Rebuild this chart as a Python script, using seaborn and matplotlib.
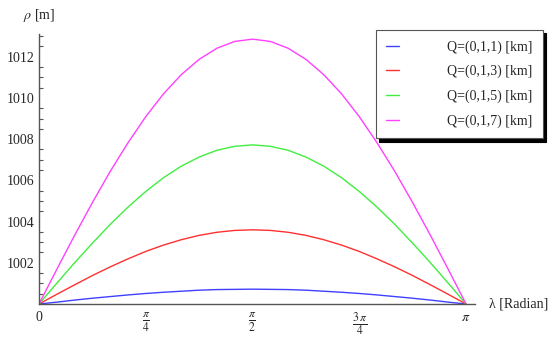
"""
Rho versus lambda for four Q positions
"""

import numpy as np
import matplotlib
matplotlib.use("Agg")
import matplotlib.pyplot as plt
import seaborn as sns
import pandas as pd

# lambda sampled every pi/24 from 0 to pi
lam_steps = list(range(25))

rho_q1 = [1000.00, 1000.09, 1000.19, 1000.28, 1000.36, 1000.44, 1000.51, 1000.57, 1000.62,
          1000.67, 1000.70, 1000.71, 1000.72, 1000.71, 1000.70, 1000.67, 1000.62, 1000.57,
          1000.51, 1000.44, 1000.36, 1000.28, 1000.19, 1000.09, 1000.00]
rho_q3 = [1000.00, 1000.47, 1000.93, 1001.38, 1001.80, 1002.19, 1002.55, 1002.86, 1003.12,
          1003.33, 1003.48, 1003.57, 1003.60, 1003.57, 1003.48, 1003.33, 1003.12, 1002.86,
          1002.55, 1002.19, 1001.80, 1001.38, 1000.93, 1000.47, 1000.00]
rho_q5 = [1000.00, 1001.01, 1002.00, 1002.95, 1003.86, 1004.70, 1005.46, 1006.13, 1006.69,
          1007.13, 1007.46, 1007.65, 1007.72, 1007.65, 1007.46, 1007.13, 1006.69, 1006.13,
          1005.46, 1004.70, 1003.86, 1002.95, 1002.00, 1001.01, 1000.00]
rho_q7 = [1000.00, 1001.68, 1003.33, 1004.92, 1006.43, 1007.82, 1009.09, 1010.20, 1011.13,
          1011.87, 1012.41, 1012.74, 1012.85, 1012.74, 1012.41, 1011.87, 1011.13, 1010.20,
          1009.09, 1007.82, 1006.43, 1004.92, 1003.33, 1001.68, 1000.00]

labels = ["Q=(0,1,1) [km]", "Q=(0,1,3) [km]", "Q=(0,1,5) [km]", "Q=(0,1,7) [km]"]
colors = ["#4040ff", "#ff3030", "#40ee40", "#ff40ff"]

x_ticks = [0, np.pi / 4, np.pi / 2, 3 * np.pi / 4, np.pi]
x_ticklabels = ["0", r"$\frac{\pi}{4}$", r"$\frac{\pi}{2}$", r"$\frac{3\,\pi}{4}$", r"$\pi$"]
y_ticks = [1002, 1004, 1006, 1008, 1010, 1012]

lam = [k * np.pi / 24 for k in lam_steps]
frames = []
for lab, vals in zip(labels, [rho_q1, rho_q3, rho_q5, rho_q7]):
    frames.append(pd.DataFrame({"lam": lam, "rho": vals, "Q": lab}))
data = pd.concat(frames, ignore_index=True)

sns.set_style("white")
plt.rcParams["font.family"] = ["Liberation Serif", "DejaVu Serif"]
plt.rcParams["mathtext.fontset"] = "stix"

fig = plt.figure(figsize=(5.5, 3.39), dpi=100)
ax = fig.add_axes([39 / 550, 1 - 304 / 339, 436 / 550, 270 / 339])

sns.lineplot(data=data, x="lam", y="rho", hue="Q", palette=colors,
             linewidth=1.0, ax=ax, legend=False)

ax.set_xlim(0, np.pi * 1.021)
ax.set_ylim(1000, 1013.1)
ax.set_xlabel("")
ax.set_ylabel("")

for s in ["top", "right"]:
    ax.spines[s].set_visible(False)
for s in ["left", "bottom"]:
    ax.spines[s].set_color("#555555")
    ax.spines[s].set_linewidth(1.0)

ax.set_xticks(x_ticks)
ax.set_xticklabels(x_ticklabels, fontsize=10)
for i, t in enumerate(ax.get_xticklabels()):
    if i in (1, 2, 3):
        t.set_fontsize(12)
ax.set_yticks(y_ticks)
ax.set_yticklabels([str(t) for t in y_ticks], fontsize=10)
ax.set_yticks(np.arange(1000.5, 1013.1, 0.5), minor=True)
ax.tick_params(axis="x", direction="in", length=5, width=1, color="#555555", pad=5)
ax.tick_params(axis="y", which="major", direction="in", length=5, width=1,
               color="#555555", pad=3)
ax.tick_params(axis="y", which="minor", direction="in", length=3, width=0.8,
               color="#555555", left=True)
ax.xaxis.get_major_ticks()[0].tick1line.set_visible(False)

handles = [plt.Line2D([], [], color=c, linewidth=1.0) for c in colors]
leg = fig.legend(handles, labels, loc="upper right",
                 bbox_to_anchor=(543 / 550, 1 - 30 / 339), bbox_transform=fig.transFigure,
                 borderaxespad=0, fontsize=10, frameon=True, fancybox=False,
                 handlelength=0.9, handletextpad=3.5, labelspacing=0.8, borderpad=0.75,
                 shadow={"color": "black", "alpha": 1.0, "ox": 2.5, "oy": -2.5})
leg.get_frame().set_edgecolor("#555555")
leg.get_frame().set_linewidth(0.8)

fig.text(39 / 550, 1 - 16 / 339, r"$\rho$ [m]", ha="center", va="center", fontsize=10)
fig.text(489 / 550, 1 - 304 / 339, "λ [Radian]", ha="left", va="center", fontsize=10)

fig.savefig("out.png", dpi=100, facecolor="white")
